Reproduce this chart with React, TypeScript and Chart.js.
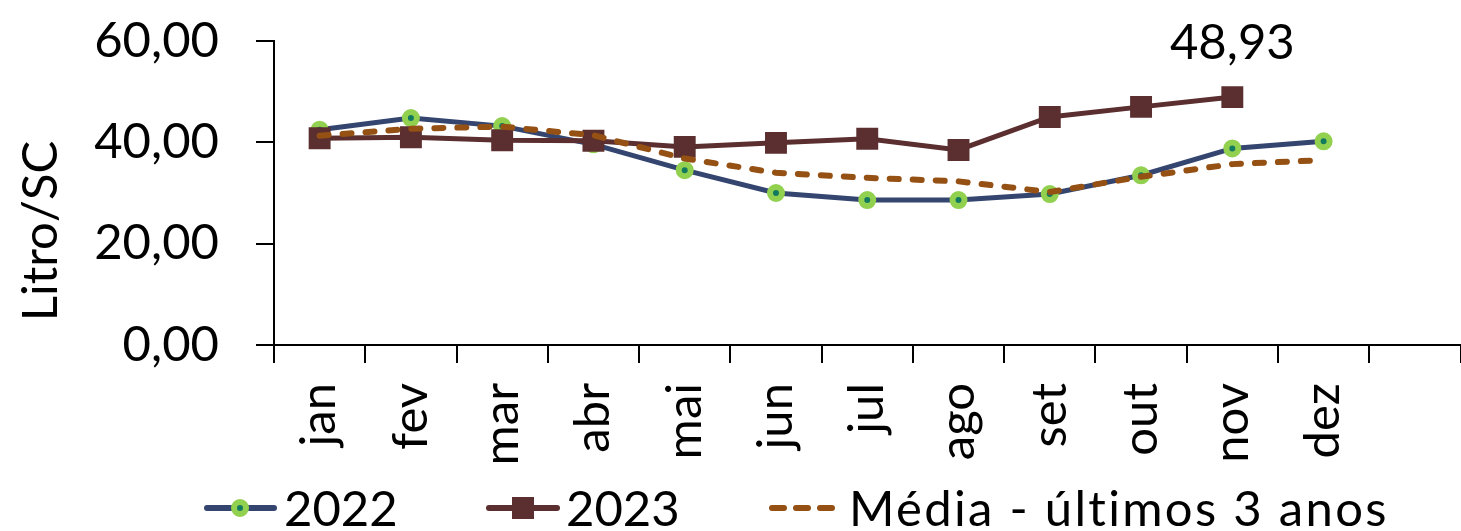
import React, { useEffect, useRef } from "react";
import { Chart, registerables } from "chart.js";

Chart.register(...registerables);

const categories = ["jan", "fev", "mar", "abr", "mai", "jun", "jul", "ago", "set", "out", "nov", "dez", ""];
const series2022 = [42.5, 44.8, 43.2, 39.6, 34.5, 30.0, 28.6, 28.6, 29.8, 33.5, 38.8, 40.2, null];
const series2023 = [40.8, 41.0, 40.4, 40.3, 39.1, 39.9, 40.7, 38.5, 45.0, 47.0, 48.93, null, null];
const seriesMedia = [41.3, 42.7, 43.1, 41.4, 36.8, 34.0, 33.0, 32.3, 30.2, 33.2, 35.7, 36.5, null];
const yTicks = [0, 20, 40, 60];
const legendLabels = ["2022", "2023", "Média - últimos 3 anos"];
const axisTitle = "Litro/SC";

const FONT = "Lato, 'Open Sans', sans-serif";
const FS = 49;
const C2022 = "#34466f";
const C2022_PT = "#92d050";
const C2022_IN = "#127a5f";
const C2023 = "#5b2f2f";
const CMEDIA = "#955013";
const CANVAS_W = 1476;

const fmt = (v: number) => v.toFixed(2).replace(".", ",");

const customPlugin = {
  id: "custom",
  afterDraw(chart: any) {
    const ctx = chart.ctx;
    ctx.save();
    // axis title
    ctx.font = `${FS}px ${FONT}`;
    ctx.fillStyle = "#000";
    ctx.textAlign = "center";
    ctx.textBaseline = "middle";
    ctx.translate(41, 231);
    ctx.rotate(-Math.PI / 2);
    ctx.fillText(axisTitle, 0, 0);
    ctx.restore();

    // data label for last 2023 value
    const meta = chart.getDatasetMeta(1);
    const idx = 10;
    const pt = meta.data[idx];
    if (pt) {
      ctx.save();
      ctx.font = `${FS}px ${FONT}`;
      ctx.fillStyle = "#000";
      ctx.textAlign = "center";
      ctx.textBaseline = "alphabetic";
      ctx.fillText(fmt(series2023[idx] as number), pt.x, pt.y - 38);
      ctx.restore();
    }

    // legend
    const ly = 508;
    ctx.save();
    ctx.lineCap = "round";
    // 2022
    ctx.strokeStyle = C2022;
    ctx.lineWidth = 6;
    ctx.beginPath();
    ctx.moveTo(207, ly);
    ctx.lineTo(274, ly);
    ctx.stroke();
    ctx.beginPath();
    ctx.arc(240, ly, 6, 0, Math.PI * 2);
    ctx.fillStyle = C2022_IN;
    ctx.fill();
    ctx.lineWidth = 6;
    ctx.strokeStyle = C2022_PT;
    ctx.stroke();
    // 2023
    ctx.strokeStyle = C2023;
    ctx.lineWidth = 6;
    ctx.beginPath();
    ctx.moveTo(489, ly);
    ctx.lineTo(557, ly);
    ctx.stroke();
    ctx.fillStyle = C2023;
    ctx.fillRect(523 - 11, ly - 11, 22, 22);
    // media
    ctx.strokeStyle = CMEDIA;
    ctx.lineWidth = 6;
    ctx.setLineDash([12, 12]);
    ctx.beginPath();
    ctx.moveTo(772, ly);
    ctx.lineTo(832, ly);
    ctx.stroke();
    ctx.setLineDash([]);
    ctx.font = `${FS}px ${FONT}`;
    ctx.fillStyle = "#000";
    ctx.textAlign = "left";
    ctx.textBaseline = "middle";
    ctx.fillText(legendLabels[0], 284, ly + 2);
    ctx.fillText(legendLabels[1], 566, ly + 2);
    (ctx as any).letterSpacing = "2.3px";
    ctx.fillText(legendLabels[2], 849, ly + 2);
    (ctx as any).letterSpacing = "0px";
    ctx.restore();
  },
};

export default function App() {
  const ref = useRef<HTMLCanvasElement | null>(null);
  useEffect(() => {
    document.body.style.margin = "0";
    const chart = new Chart(ref.current as HTMLCanvasElement, {
      type: "line",
      data: {
        labels: categories,
        datasets: [
          {
            label: legendLabels[0],
            data: series2022,
            borderColor: C2022,
            borderWidth: 5,
            pointRadius: 6,
            pointBorderWidth: 6,
            pointBackgroundColor: C2022_IN,
            pointBorderColor: C2022_PT,
            pointHoverRadius: 6,
            tension: 0,
            order: 2,
          },
          {
            label: legendLabels[1],
            data: series2023,
            borderColor: C2023,
            borderWidth: 5,
            pointStyle: "rect",
            pointRadius: 15.5,
            pointBorderWidth: 0,
            pointBackgroundColor: C2023,
            pointBorderColor: C2023,
            pointHoverRadius: 15.5,
            tension: 0,
            order: 1,
          },
          {
            label: legendLabels[2],
            data: seriesMedia,
            borderColor: CMEDIA,
            borderWidth: 6,
            borderDash: [9, 14],
            borderCapStyle: "round",
            pointRadius: 0,
            tension: 0,
            order: 0,
          },
        ],
      },
      options: {
        animation: false,
        responsive: false,
        maintainAspectRatio: false,
        layout: { padding: { top: 41, left: 0, right: 0, bottom: 0 } },
        plugins: {
          legend: { display: false },
          tooltip: { enabled: false },
          title: { display: false },
        },
        scales: {
          x: {
            type: "category",
            offset: true,
            afterFit(scale: any) {
              scale.height = 531 - 345;
              scale.paddingLeft = 0;
              scale.paddingRight = 0;
            },
            grid: {
              offset: true,
              drawOnChartArea: false,
              drawTicks: true,
              tickLength: 18,
              color: "#000",
              lineWidth: 2,
            },
            border: { display: true, color: "#000", width: 2 },
            ticks: {
              autoSkip: false,
              maxRotation: 90,
              minRotation: 90,
              padding: 20,
              color: "#000",
              font: { family: FONT, size: FS },
            },
          },
          y: {
            min: 0,
            max: 60,
            afterFit(scale: any) {
              scale.width = 274;
              scale.paddingTop = 0;
              scale.paddingBottom = 0;
            },
            afterBuildTicks(scale: any) {
              scale.ticks = yTicks.map((v) => ({ value: v }));
            },
            grid: {
              drawOnChartArea: false,
              drawTicks: true,
              tickLength: 18,
              color: "#000",
              lineWidth: 2,
            },
            border: { display: true, color: "#000", width: 2 },
            ticks: {
              padding: 37,
              color: "#000",
              font: { family: FONT, size: FS },
              callback: (v: any) => fmt(Number(v)),
            },
          },
        },
      },
      plugins: [customPlugin],
    });
    return () => chart.destroy();
  }, []);
  return (
    <div style={{ position: "absolute", left: 0, top: 0, width: 1461, height: 531, overflow: "hidden", background: "#fff" }}>
      <canvas ref={ref} width={CANVAS_W} height={531} style={{ width: CANVAS_W, height: 531, display: "block" }} />
    </div>
  );
}
